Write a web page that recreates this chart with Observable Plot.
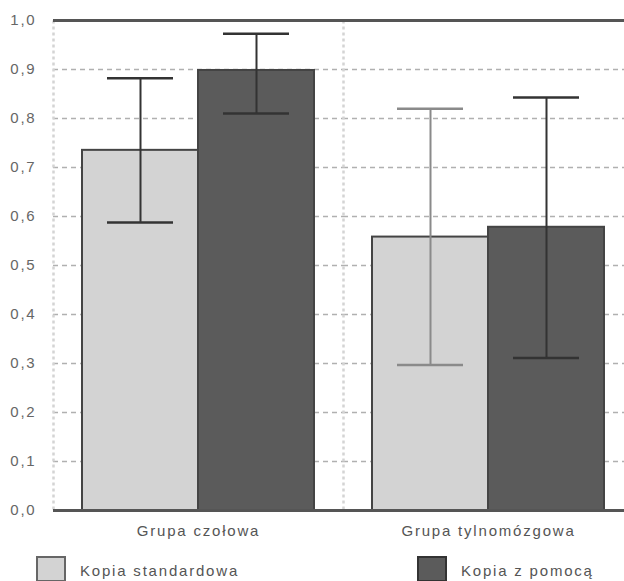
<!DOCTYPE html>
<html>
<head>
<meta charset="utf-8">
<script src="https://cdn.jsdelivr.net/npm/d3@7"></script>
<script src="https://cdn.jsdelivr.net/npm/@observablehq/plot@0.6"></script>
<style>
  body { margin: 0; background: #fff; font-family: "Liberation Sans", Arial, sans-serif; }
  #chart { width: 624px; height: 581px; overflow: hidden; position: relative; background: #fff; }
  #chart svg { display: block; }
  .legend { position: relative; height: 36px; }
  .item { position: absolute; top: 11px; display: flex; align-items: flex-start; }
  .sw { width: 30px; height: 26px; box-sizing: border-box; border: 2px solid #666; }
  .lab { margin-left: 14px; margin-top: 6px; font-size: 15px; letter-spacing: 1.8px; color: #555; line-height: 18px; white-space: nowrap; }
</style>
</head>
<body>
<div id="chart"></div>
<script>
const groups = ["Grupa czołowa", "Grupa tylnomózgowa"];
const series = ["Kopia standardowa", "Kopia z pomocą"];
const seriesColors = ["#d3d3d3", "#5b5b5b"];
// per group values for each series
const meanStandard = [0.735, 0.558];
const lowStandard = [0.588, 0.297];
const highStandard = [0.882, 0.820];
const meanAssisted = [0.898, 0.578];
const lowAssisted = [0.810, 0.311];
const highAssisted = [0.973, 0.843];
const yTicks = [0, 0.1, 0.2, 0.3, 0.4, 0.5, 0.6, 0.7, 0.8, 0.9, 1.0];
const yTickLabels = ["0,0", "0,1", "0,2", "0,3", "0,4", "0,5", "0,6", "0,7", "0,8", "0,9", "1,0"];
const gridTicks = yTicks.slice(1, -1);

const table = [];
groups.forEach((g, i) => {
  table.push({group: g, series: series[0], mean: meanStandard[i], lo: lowStandard[i], hi: highStandard[i]});
  table.push({group: g, series: series[1], mean: meanAssisted[i], lo: lowAssisted[i], hi: highAssisted[i]});
});
const errColor = d => (d.group === groups[1] && d.series === series[0]) ? "#8a8a8a" : "#333";

const plot = Plot.plot({
  width: 624,
  height: 545,
  marginTop: 20,
  marginBottom: 35,
  marginLeft: 53,
  marginRight: -9,
  style: {fontFamily: "'Liberation Sans', Arial, sans-serif", fontSize: "15px", letterSpacing: "1.8px", color: "#555", background: "white", overflow: "visible"},
  fx: {domain: groups, padding: 0, axis: "bottom", label: null, tickSize: 0, tickPadding: 15},
  x: {domain: series, axis: null, paddingInner: 0, paddingOuter: 0.25},
  y: {domain: [0, 1], axis: null},
  color: {domain: series, range: seriesColors},
  marks: [
    Plot.ruleY(gridTicks, {stroke: "#b0b0b0", strokeWidth: 1.5, strokeDasharray: "5,4"}),
    Plot.frame({anchor: "left", stroke: "#d4d4d4", strokeWidth: 2.5, strokeDasharray: "3,3", strokeLinecap: "butt"}),
    Plot.barY(table, {fx: "group", x: "series", y: "mean", fill: "series", stroke: "#444", strokeWidth: 2}),
    Plot.ruleX(table, {fx: "group", x: "series", y1: "lo", y2: "hi", stroke: errColor, strokeWidth: 2}),
    Plot.tickY(table, {fx: "group", x: "series", y: "hi", inset: 25, stroke: errColor, strokeWidth: 2.5}),
    Plot.tickY(table, {fx: "group", x: "series", y: "lo", inset: 25, stroke: errColor, strokeWidth: 2.5}),
    Plot.ruleY([0, 1], {stroke: "#555", strokeWidth: 3}),
    Plot.axisY({ticks: yTicks, tickFormat: d => yTickLabels[yTicks.indexOf(d)], tickSize: 0, tickPadding: 17, line: true, stroke: "#5a5a5a", strokeWidth: 3, fill: "#666"})
  ]
});
const chart = document.getElementById("chart");
chart.appendChild(plot);

const legend = document.createElement("div");
legend.className = "legend";
const legendLeft = [36, 417];
series.forEach((s, i) => {
  const item = document.createElement("div");
  item.className = "item";
  item.style.left = legendLeft[i] + "px";
  const sw = document.createElement("div");
  sw.className = "sw";
  sw.style.background = seriesColors[i];
  sw.style.borderColor = i === 0 ? "#666" : "#333";
  const lab = document.createElement("div");
  lab.className = "lab";
  lab.textContent = s;
  item.appendChild(sw);
  item.appendChild(lab);
  legend.appendChild(item);
});
chart.appendChild(legend);
</script>
</body>
</html>
